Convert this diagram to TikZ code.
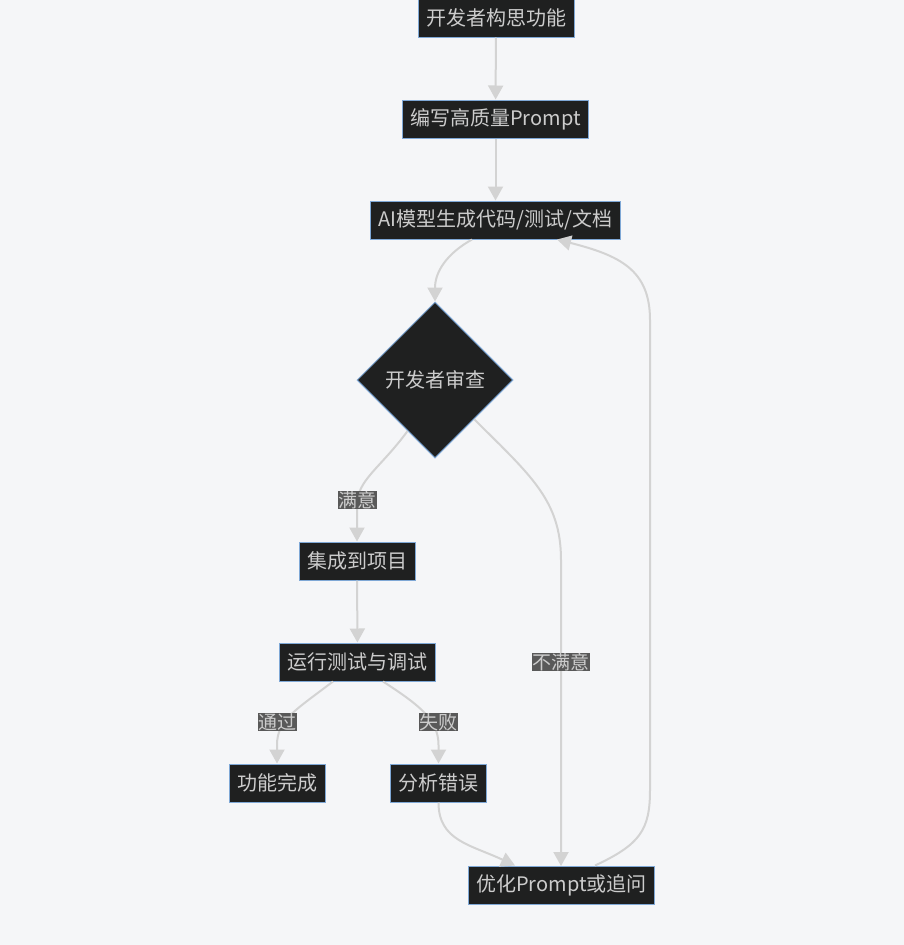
\documentclass[tikz,border=0pt]{standalone}
\usepackage{fontspec}
\setmainfont{Noto Sans CJK SC}
\usetikzlibrary{shapes.geometric,arrows.meta,calc}
\definecolor{bgc}{HTML}{F5F6F8}
\definecolor{nodefill}{HTML}{1F2020}
\definecolor{nodeline}{HTML}{7FA8D6}
\definecolor{txt}{HTML}{CCCCCC}
\definecolor{edgec}{HTML}{D3D3D3}
\definecolor{lblbg}{HTML}{595959}
\tikzset{
  box/.style={draw=nodeline, line width=1pt, fill=nodefill, text=txt,
    font=\fontsize{20}{24}\selectfont, inner xsep=8pt, inner ysep=0pt,
    minimum height=38pt},
  decide/.style={diamond, aspect=1, draw=nodeline, line width=1pt, fill=nodefill,
    text=txt, font=\fontsize{20}{24}\selectfont, minimum width=156pt,
    minimum height=156pt, inner sep=0pt},
  edge/.style={draw=edgec, line width=2pt,
    -{Triangle[length=14pt,width=15pt]}},
  lbl/.style={fill=lblbg, text=txt, font=\fontsize{19}{22}\selectfont,
    inner xsep=0.5pt, inner ysep=0.5pt}
}
\begin{document}
\begin{tikzpicture}[x=1pt,y=-1pt]
\useasboundingbox[fill=bgc] (0,0) rectangle (904,945);
\node[box] (n1) at (496,18) {开发者构思功能};
\node[box] (n2) at (495.5,119) {编写高质量Prompt};
\node[box] (n3) at (495.5,220) {AI模型生成代码/测试/文档};
\node[decide] (d) at (435,380) {开发者审查};
\node[box] (n5) at (357,561) {集成到项目};
\node[box] (n6) at (357.5,662) {运行测试与调试};
\node[box] (n7) at (277,783) {功能完成};
\node[box] (n8) at (438.5,783) {分析错误};
\node[box] (n9) at (561.5,885) {优化Prompt或追问};

\coordinate (dl) at ($(d.west)!0.65!(d.south)$);
\coordinate (dr) at ($(d.east)!0.5!(d.south)$);

\draw[edge] (n1) -- (n2);
\draw[edge] (n2) -- (n3);
\draw[edge] ([xshift=-23.5pt]n3.south) .. controls +(-25,14) and +(0,-30) .. (d.north);
\draw[edge] (dl) .. controls +(-27,37) and +(0,-25) .. (357,505) -- (n5.north);
\node[lbl] (l1) at (357,500) {满意};
\draw[edge] (dr) .. controls +(56,56) and +(0,-60) .. (561,560) -- (561,866);
\node[lbl] (l2) at (561,662) {不满意};
\draw[edge] (n5) -- (n6);
\draw[edge] ([xshift=-24.5pt]n6.south) .. controls +(-38,29) and +(0,-25) .. (277,745) -- (n7.north);
\node[lbl] (l3) at (277,722) {通过};
\draw[edge] ([xshift=25.5pt]n6.south) .. controls +(37,24) and +(0,-25) .. (438.5,745) -- (n8.north);
\node[lbl] (l4) at (438.5,722) {失败};
\draw[edge] (n8.south) .. controls +(0,38) and +(-45,-21) .. ([xshift=-46.5pt]n9.north);
\draw[edge] ([xshift=33.5pt]n9.north) .. controls +(45,-21) and +(0,40) .. (650,790) -- (650,320) .. controls +(0,-50) and +(63,16) .. ([xshift=61.5pt]n3.south);
\end{tikzpicture}
\end{document}
